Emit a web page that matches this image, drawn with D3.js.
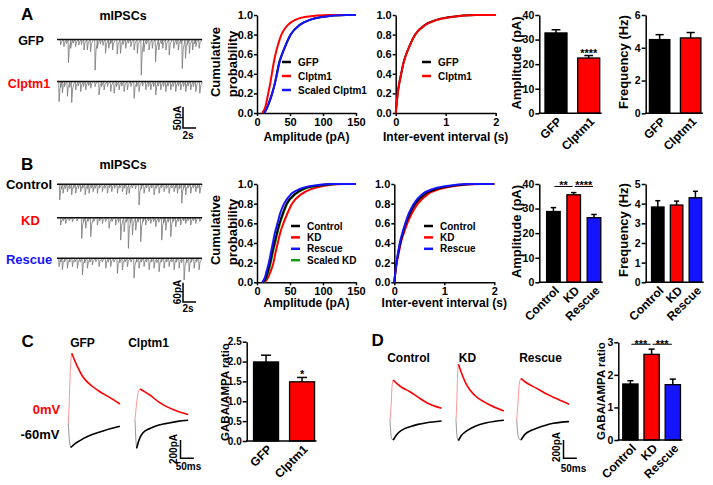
<!DOCTYPE html>
<html><head><meta charset="utf-8">
<script src="https://cdn.jsdelivr.net/npm/d3@7"></script>
<style>
body{margin:0;background:#fff}
text{font-family:"Liberation Sans",Arial,sans-serif;font-weight:bold}
</style>
</head><body><svg id="c" width="713" height="485"></svg>
<script>
// ================= DATA =================
// cumulative distributions: probability levels and the value reached at each level
const cumProb = [0,0.05,0.1,0.2,0.3,0.4,0.5,0.6,0.7,0.8,0.9,0.95,0.98,1,1];
const ampA_GFP    = [11,15,18,23,27,30,33,38,44,51,65,80,98,135,150];
const ampA_Clptm1 = [8,12,14,17,20,22.5,25,28,32,37,47,58,72,110,150];
const ampA_Scaled = [11,15,18,23,27,30.5,33.5,38,44,51,65,80,98,135,150];
const ieiA_GFP    = [0,0.01,0.02,0.04,0.07,0.11,0.15,0.21,0.29,0.39,0.59,0.82,1.1,1.6,2];
const ieiA_Clptm1 = [0,0.01,0.02,0.04,0.07,0.11,0.15,0.21,0.29,0.39,0.6,0.83,1.12,1.6,2];

const ampB_Control = [9,14,16,20,23,26.5,30,34,39,45,58,70,88,120,150];
const ampB_KD      = [12,17,20,25,28,31.5,35,40,46,53,68,83,100,130,150];
const ampB_Rescue  = [8,12,14,18,21,24,27,31,35,41,52,65,82,115,150];
const ampB_Scaled  = [10,14.5,17,21,24,27.5,31,35,40,46,59,72,90,122,150];
const ieiB_Control = [0,0.01,0.02,0.045,0.08,0.12,0.17,0.23,0.31,0.42,0.62,0.85,1.15,1.6,2];
const ieiB_KD      = [0,0.01,0.022,0.05,0.09,0.13,0.19,0.26,0.35,0.47,0.68,0.92,1.2,1.7,2];
const ieiB_Rescue  = [0,0.01,0.02,0.043,0.075,0.11,0.16,0.22,0.29,0.39,0.57,0.78,1.05,1.5,2];

const probTicks = [0,0.2,0.4,0.6,0.8,1.0];
const ampTicks = [0,50,100,150];
const ieiTicks = [0,1,2];

// bar charts (mean, sem)
const groupsA = ["GFP","Clptm1"];
const ampA_mean = [32.7,22.5], ampA_sem = [1.3,1.0];
const freqA_mean = [4.5,4.6], freqA_sem = [0.3,0.33];
const groupsB = ["Control","KD","Rescue"];
const ampB_mean = [28.8,35.6,26.3], ampB_sem = [1.6,0.9,1.3];
const freqB_mean = [3.83,3.93,4.3], freqB_sem = [0.32,0.2,0.33];
const ratioC_mean = [1.99,1.49], ratioC_sem = [0.17,0.11];
const ratioD_mean = [1.72,2.63,1.7], ratioD_sem = [0.1,0.16,0.17];

// mIPSC events [time s, amplitude pA]
const evA_GFP = [[0.5,13],[1.0,17],[1.4,10],[1.7,55],[2.05,21],[2.4,9],[2.8,17],[3.3,13],[3.7,12],[4.1,25],[4.6,25],[5.1,29],[5.8,73],[6.15,21],[6.6,11],[7.0,14],[7.4,33],[7.9,21],[8.2,10],[8.5,25],[9.2,35],[9.7,33],[10.1,12],[10.5,21],[10.9,9],[11.3,17],[11.8,25],[12.3,33],[12.9,85],[13.3,29],[13.7,11],[14.1,25],[14.6,21],[15.1,53],[15.6,25],[16.0,10],[16.2,21],[16.7,25],[17.2,37],[17.9,21],[18.3,12],[18.6,25],[19.0,10],[19.2,69],[19.7,45],[20.0,12],[20.3,33],[20.8,25],[21.1,10],[21.3,17],[21.8,21]];
const evA_Clptm1 = [[0.26,48],[0.5,14],[0.77,27],[1.1,12],[1.54,35],[1.9,14],[2.2,50],[2.82,20],[3.2,11],[3.59,24],[4.0,12],[4.36,20],[4.8,10],[5.13,16],[5.8,12],[6.41,32],[6.8,12],[7.18,20],[7.7,12],[8.2,24],[8.72,28],[9.1,12],[9.49,20],[9.9,11],[10.26,24],[10.77,20],[11.3,12],[11.8,40],[12.2,12],[12.56,24],[13.1,11],[13.59,20],[14.0,12],[14.36,20],[14.8,12],[15.13,32],[15.5,11],[15.9,20],[16.3,12],[16.67,24],[17.0,11],[17.44,20],[17.8,12],[18.2,24],[18.6,11],[18.97,20],[19.4,12],[19.74,24],[20.1,11],[20.51,20],[20.9,12],[21.28,24],[21.9,28]];
const evB_Control = [[0.36,49],[0.6,15],[0.87,28],[1.2,14],[1.54,23],[1.9,14],[2.2,33],[2.5,12],[2.82,28],[3.2,14],[3.59,23],[3.9,12],[4.26,33],[4.6,14],[4.87,28],[5.2,12],[5.49,23],[5.8,13],[6.15,28],[6.5,12],[6.92,23],[7.3,13],[7.69,28],[8.0,12],[8.36,23],[8.8,13],[9.23,28],[9.6,12],[10.0,23],[10.3,12],[10.62,33],[11.03,28],[11.5,12],[12.0,14],[12.56,65],[12.9,14],[13.33,28],[13.7,12],[14.1,23],[14.5,12],[14.87,33],[15.2,13],[15.64,28],[16.0,12],[16.41,23],[16.8,13],[17.18,28],[17.6,12],[17.95,23],[18.2,12],[18.46,28],[18.8,14],[19.13,59],[19.4,14],[19.74,33],[20.1,12],[20.51,28],[20.9,12],[21.28,23],[21.6,12],[21.9,28]];
const evB_KD = [[0.51,23],[0.9,10],[1.28,18],[1.8,9],[2.31,12],[3.0,10],[3.74,65],[4.0,14],[4.36,33],[4.7,12],[5.13,59],[5.6,12],[6.15,23],[6.5,10],[6.92,18],[7.4,12],[7.95,33],[8.4,12],[8.97,23],[9.4,14],[9.74,70],[10.26,44],[10.6,14],[10.92,96],[11.2,16],[11.54,54],[12.05,39],[12.4,14],[12.82,75],[13.2,12],[13.59,23],[14.0,10],[14.36,18],[14.8,12],[15.13,28],[15.6,14],[16.05,70],[16.35,16],[16.67,39],[17.05,14],[17.44,59],[17.8,12],[18.2,28],[18.6,12],[18.97,23],[19.4,10],[19.74,18],[20.1,10],[20.51,23],[20.9,10],[21.28,18],[21.9,12]];
const evB_Rescue = [[0.26,26],[0.5,12],[0.77,36],[1.1,12],[1.54,31],[1.9,12],[2.31,26],[2.7,12],[3.08,31],[3.5,12],[3.85,52],[4.2,14],[4.62,31],[5.0,12],[5.38,21],[5.9,11],[6.41,26],[6.9,12],[7.44,31],[7.8,12],[8.2,26],[8.7,12],[9.23,47],[9.6,14],[10.0,36],[10.4,12],[10.77,26],[11.3,12],[11.79,62],[12.2,12],[12.56,31],[12.9,12],[13.33,26],[13.7,12],[14.1,36],[14.5,12],[14.87,31],[15.3,14],[15.64,42],[16.0,12],[16.41,31],[16.8,12],[17.18,26],[17.6,12],[17.95,36],[18.3,12],[18.72,31],[19.1,14],[19.49,68],[19.9,14],[20.26,42],[20.6,12],[21.03,31],[21.4,12],[21.79,36]];

// evoked currents [time ms, current pA] (0 mV outward, -60 mV inward)
const evC_GFP_0   = [[0,0],[3,200],[8,600],[13,765],[25,680],[56,503],[90,405],[119,345],[157,280],[194,210]];
const evC_GFP_60  = [[0,0],[3,-150],[9,-265],[20,-235],[40,-195],[56,-167],[90,-122],[119,-95],[157,-60],[194,-33]];
const evC_Cl_0    = [[0,0],[5,150],[12,300],[19,339],[30,320],[56,273],[90,195],[119,146],[160,95],[200,61]];
const evC_Cl_60   = [[0,0],[3,-200],[6,-310],[15,-220],[30,-140],[56,-92],[90,-55],[119,-37],[160,-15],[200,-3]];
const evD_Ctl_0   = [[0,0],[4,150],[8,380],[12,437],[25,400],[45,355],[75,309],[105,250],[138,189],[194,128]];
const evD_Ctl_60  = [[0,0],[2,-100],[6,-200],[12,-219],[25,-160],[45,-110],[75,-73],[105,-48],[138,-30],[194,-11]];
const evD_KD_0    = [[0,0],[3,200],[6,500],[9,609],[20,520],[40,383],[70,270],[115,183],[180,98]];
const evD_KD_60   = [[0,0],[3,-150],[6,-210],[9,-226],[20,-170],[40,-120],[70,-70],[115,-30],[180,-2]];
const evD_Res_0   = [[0,0],[5,200],[10,400],[16,456],[35,410],[75,346],[105,295],[138,248],[197,172]];
const evD_Res_60  = [[0,0],[4,-150],[10,-210],[16,-219],[30,-160],[50,-120],[75,-91],[138,-36],[197,-18]];

// ================= DRAW =================
const RED = "#ff0000", BLUE = "#1414ff", GREEN = "#1a9a1a", BLACK = "#000";
const svg = d3.select("#c");
const FONT = '"Liberation Sans",Arial,sans-serif';

function axisStyle(size){
  return sel=>{
    sel.selectAll("path,line").attr("stroke","#000").attr("stroke-width",1.5);
    sel.selectAll("text").attr("font-size",size).attr("font-weight","bold").attr("font-family",FONT).attr("fill","#000");
  };
}
function txt(x,y,s,opt={}){
  const t = svg.append("text").attr("x",x).attr("y",y).text(s)
    .attr("font-size",opt.size||12).attr("fill",opt.color||"#000")
    .attr("text-anchor",opt.anchor||"start");
  if(opt.rot){ t.attr("x",0).attr("y",0).attr("dy","0.35em").attr("text-anchor","middle")
      .attr("transform",`translate(${x},${y}) rotate(${opt.rot})`); }
  return t;
}

function cumPlot(c){
  const x = d3.scaleLinear().domain(c.xDomain).range([c.x0,c.x1]);
  const y = d3.scaleLinear().domain([0,1]).range([c.y0,c.y1]);
  const g = svg.append("g");
  g.append("g").attr("transform",`translate(0,${c.y0})`)
    .call(d3.axisBottom(x).tickValues(c.xTicks).tickFormat(d3.format("d")).tickSize(3).tickPadding(2).tickSizeOuter(0)).call(axisStyle(11));
  g.append("g").attr("transform",`translate(${c.x0},0)`)
    .call(d3.axisLeft(y).tickValues(probTicks).tickFormat(d3.format(".1f")).tickSize(3).tickPadding(1).tickSizeOuter(0)).call(axisStyle(11));
  const line = d3.line().x(d=>x(d[0])).y(d=>y(d[1])).curve(d3.curveMonotoneX);
  c.series.forEach(s=>{
    g.append("path").datum(s.vals.map((v,i)=>[v,cumProb[i]])).attr("d",line)
      .attr("fill","none").attr("stroke",s.color).attr("stroke-width",2);
  });
  c.legend.forEach((s,i)=>{
    const ly = c.ly + i*c.lstep;
    g.append("line").attr("x1",c.lx).attr("x2",c.lx+9).attr("y1",ly).attr("y2",ly).attr("stroke",s.color).attr("stroke-width",2.5);
    g.append("text").attr("x",c.lx+16).attr("y",ly+3.6).text(s.name).attr("font-size",10);
  });
  txt((c.x0+c.x1)/2, c.xl, c.xlabel, {anchor:"middle",size:12});
}

function barPlot(c){
  const x = d3.scaleBand().domain(c.groups).range(c.band).paddingInner(c.pi).paddingOuter(c.po);
  const y = d3.scaleLinear().domain(c.yDomain).range([c.y0,c.y1]);
  const g = svg.append("g");
  const bw = x.bandwidth();
  c.groups.forEach((k,i)=>{
    const m = c.mean[i], s = c.sem[i], cx = x(k)+bw/2;
    g.append("line").attr("x1",cx).attr("x2",cx).attr("y1",y(m)).attr("y2",y(m+s)).attr("stroke","#000").attr("stroke-width",1.5);
    g.append("line").attr("x1",cx-bw*0.2).attr("x2",cx+bw*0.2).attr("y1",y(m+s)).attr("y2",y(m+s)).attr("stroke","#000").attr("stroke-width",1.5);
    g.append("rect").attr("x",x(k)).attr("y",y(m)).attr("width",bw).attr("height",c.y0-y(m))
      .attr("fill",c.colors[i]).attr("stroke","#000").attr("stroke-width",1.3);
    g.append("text").attr("text-anchor","end").attr("font-size",12)
      .attr("transform",`translate(${cx+6.5},${c.y0+9}) rotate(-45)`).text(k);
  });
  g.append("g").attr("transform",`translate(${c.band[0]},0)`)
    .call(d3.axisLeft(y).tickValues(c.yTicks).tickFormat(c.fmt).tickSize(4).tickPadding(1).tickSizeOuter(0)).call(axisStyle(c.tickFont||10.5));
  const last = c.groups[c.groups.length-1];
  g.append("line").attr("x1",c.band[0]-0.75).attr("x2",x(last)+bw+2).attr("y1",c.y0).attr("y2",c.y0).attr("stroke","#000").attr("stroke-width",1.5);
  txt(c.lx,c.ly,c.ylabel,{rot:-90,size:c.lsize||13});
  (c.stars||[]).forEach(st=>{
    const i = c.groups.indexOf(st.g);
    g.append("text").attr("x",x(st.g)+bw/2).attr("y",y(c.mean[i]+c.sem[i])+1).attr("text-anchor","middle").attr("font-size",11).text(st.t);
  });
  (c.brackets||[]).forEach(b=>{
    const x1 = x(b.a)+bw/2+1, x2 = x(b.b)+bw/2-1, by = y(b.v);
    g.append("line").attr("x1",x1).attr("x2",x2).attr("y1",by).attr("y2",by).attr("stroke","#000").attr("stroke-width",1);
    g.append("text").attr("x",(x1+x2)/2).attr("y",by+b.dy).attr("text-anchor","middle").attr("font-size",11).text(b.t);
  });
}

function mipsc(events, base, pxPer50){
  const x = d3.scaleLinear().domain([0,22.3]).range([57,202]);
  const y = d3.scaleLinear().domain([0,50]).range([base, base+pxPer50]);
  const g = svg.append("g");
  events.forEach(e=>{
    const p = d3.path();
    p.moveTo(x(e[0]),y(0)); p.lineTo(x(e[0])+0.4,y(e[1])); p.lineTo(x(e[0]+0.2),y(e[1]*0.35)); p.lineTo(x(e[0]+0.5),y(0));
    g.append("path").attr("d",p.toString()).attr("fill","none").attr("stroke","#777").attr("stroke-width",0.8);
  });
  g.append("line").attr("x1",x(0)).attr("x2",x(22.3)).attr("y1",y(0)).attr("y2",y(0)).attr("stroke","#111").attr("stroke-width",1.4);
  return {x,y};
}
function scaleBar(sx, sy, xLen, yLen, x0, yBottom){
  const w = sx(xLen)-sx(0), h = Math.abs(sy(yLen)-sy(0));
  svg.append("path").attr("d",`M${x0},${yBottom-h}L${x0},${yBottom}L${x0+w},${yBottom}`).attr("fill","none").attr("stroke","#000").attr("stroke-width",1.5);
  return {w,h};
}

function evoked(data0, data60, xStart, base){
  const x = d3.scaleLinear().domain([0,50]).range([xStart, xStart+13.3]);
  const y = d3.scaleLinear().domain([0,200]).range([base, base-18.3]);
  const line = d3.line().x(d=>x(d[0])).y(d=>y(d[1])).curve(d3.curveMonotoneX);
  [[data60,BLACK],[data0,RED]].forEach(([d,col])=>{
    const pk = d3.scan(d, (a,b)=>Math.abs(b[1])-Math.abs(a[1]));
    svg.append("path").datum(d.slice(0,pk+1)).attr("d",line).attr("fill","none").attr("stroke",col).attr("stroke-width",0.6).attr("opacity",0.7);
    svg.append("path").datum(d.slice(pk)).attr("d",line).attr("fill","none").attr("stroke",col).attr("stroke-width",1.6);
  });
  return {x,y};
}

// ---------- Panel A ----------
txt(21,19.5,"A",{size:17});
txt(123,20,"mIPSCs",{anchor:"middle",size:12.5});
txt(31,45,"GFP",{anchor:"middle",size:12.5});
txt(29,88,"Clptm1",{anchor:"middle",size:12.5,color:RED});
const trA = mipsc(evA_GFP, 39.5, 21);
mipsc(evA_Clptm1, 81.5, 21);
scaleBar(trA.x, trA.y, 2, 50, 183, 128);
txt(177,118,"50pA",{rot:-90,size:10});
txt(188,138.5,"2s",{anchor:"middle",size:10});

txt(215,62,"Cumulative",{rot:-90,size:13});
txt(232,64,"probability",{rot:-90,size:13});
cumPlot({xDomain:[0,150],xTicks:ampTicks,x0:257,x1:356,y0:113,y1:15,xl:140.5,xlabel:"Amplitude (pA)",
  series:[{vals:ampA_GFP,color:BLACK},{vals:ampA_Clptm1,color:RED},{vals:ampA_Scaled,color:BLUE}],
  legend:[{name:"GFP",color:BLACK},{name:"Clptm1",color:RED},{name:"Scaled Clptm1",color:BLUE}],lx:282,ly:62,lstep:14});
cumPlot({xDomain:[0,2],xTicks:ieiTicks,x0:395.7,x1:495.7,y0:113,y1:15,xl:140.5,xlabel:"Inter-event interval (s)",
  series:[{vals:ieiA_GFP,color:BLACK},{vals:ieiA_Clptm1,color:RED}],
  legend:[{name:"GFP",color:BLACK},{name:"Clptm1",color:RED}],lx:422,ly:62,lstep:14});
barPlot({groups:groupsA,mean:ampA_mean,sem:ampA_sem,colors:[BLACK,RED],band:[539.3,605.4],pi:0.327,po:0.174,
  yDomain:[0,40],yTicks:[0,10,20,30,40],fmt:d3.format("d"),y0:113.3,y1:15,ylabel:"Amplitude (pA)",lx:516,ly:63,
  stars:[{g:"Clptm1",t:"****"}]});
barPlot({groups:groupsA,mean:freqA_mean,sem:freqA_sem,colors:[BLACK,RED],band:[645.7,704.6],pi:0.34,po:0.12,
  yDomain:[0,6],yTicks:[0,2,4,6],fmt:d3.format("d"),y0:113.3,y1:15,ylabel:"Frequency (Hz)",lx:623,ly:62});

// ---------- Panel B ----------
txt(21,170,"B",{size:17});
txt(123,169,"mIPSCs",{anchor:"middle",size:12.5});
txt(29,189.3,"Control",{anchor:"middle",size:13});
txt(30.5,225,"KD",{anchor:"middle",size:13,color:RED});
txt(29,264,"Rescue",{anchor:"middle",size:13,color:BLUE});
const trB = mipsc(evB_Control, 184.3, 16);
mipsc(evB_KD, 217.7, 16);
mipsc(evB_Rescue, 258.3, 16);
scaleBar(trB.x, trB.y, 2, 60, 183, 302);
txt(177,292,"60pA",{rot:-90,size:10});
txt(188,312,"2s",{anchor:"middle",size:10});

txt(215,230,"Cumulative",{rot:-90,size:13});
txt(232,232,"probability",{rot:-90,size:13});
cumPlot({xDomain:[0,150],xTicks:ampTicks,x0:257,x1:356,y0:282.3,y1:184,xl:307,xlabel:"Amplitude (pA)",
  series:[{vals:ampB_KD,color:RED},{vals:ampB_Scaled,color:GREEN},{vals:ampB_Control,color:BLACK},{vals:ampB_Rescue,color:BLUE}],
  legend:[{name:"Control",color:BLACK},{name:"KD",color:RED},{name:"Rescue",color:BLUE},{name:"Scaled KD",color:GREEN}],lx:291,ly:226,lstep:11.4});
cumPlot({xDomain:[0,2],xTicks:ieiTicks,x0:394.3,x1:494.3,y0:282.3,y1:184,xl:307,xlabel:"Inter-event interval (s)",
  series:[{vals:ieiB_KD,color:RED},{vals:ieiB_Control,color:BLACK},{vals:ieiB_Rescue,color:BLUE}],
  legend:[{name:"Control",color:BLACK},{name:"KD",color:RED},{name:"Rescue",color:BLUE}],lx:424,ly:226,lstep:11.4});
barPlot({groups:groupsB,mean:ampB_mean,sem:ampB_sem,colors:[BLACK,RED,BLUE],band:[539.3,608.1],pi:0.33,po:0.36,
  yDomain:[0,40],yTicks:[0,10,20,30,40],fmt:d3.format("d"),y0:282.3,y1:184,ylabel:"Amplitude (pA)",lx:516,ly:231.5,
  brackets:[{a:"Control",b:"KD",v:39,t:"**",dy:3},{a:"KD",b:"Rescue",v:39,t:"****",dy:3}]});
barPlot({groups:groupsB,mean:freqB_mean,sem:freqB_sem,colors:[BLACK,RED,BLUE],band:[645.7,707.5],pi:0.335,po:0.31,
  yDomain:[0,5],yTicks:[0,1,2,3,4,5],fmt:d3.format("d"),y0:282.3,y1:184,ylabel:"Frequency (Hz)",lx:623,ly:230});

// ---------- Panel C ----------
txt(21.5,346.7,"C",{size:17});
txt(82.5,347,"GFP",{anchor:"middle",size:12});
txt(148.5,347,"Clptm1",{anchor:"middle",size:12});
txt(46.5,414,"0mV",{anchor:"middle",size:13,color:RED});
txt(40,438.5,"-60mV",{anchor:"middle",size:13});
const ecC = evoked(evC_GFP_0, evC_GFP_60, 68.3, 423.3);
evoked(evC_Cl_0, evC_Cl_60, 135, 420);
scaleBar(ecC.x, ecC.y, 50, 200, 180.5, 458.3);
txt(173,449,"200pA",{rot:-90,size:10});
txt(188.5,469.5,"50ms",{anchor:"middle",size:10});
barPlot({groups:groupsA,mean:ratioC_mean,sem:ratioC_sem,colors:[BLACK,RED],band:[246.7,321.4],pi:0.306,po:0.19,
  yDomain:[0,2.5],yTicks:[0,0.5,1,1.5,2,2.5],fmt:d3.format(".1f"),y0:441,y1:341.7,ylabel:"GABA/AMPA ratio",lx:225,ly:392,
  lsize:11.5,tickFont:10,stars:[{g:"Clptm1",t:"*"}]});

// ---------- Panel D ----------
txt(371.5,346,"D",{size:17});
txt(408.5,361.5,"Control",{anchor:"middle",size:12});
txt(467.5,361.5,"KD",{anchor:"middle",size:12});
txt(540.5,361.5,"Rescue",{anchor:"middle",size:12});
const ecD = evoked(evD_Ctl_0, evD_Ctl_60, 390, 420);
evoked(evD_KD_0, evD_KD_60, 456, 420);
evoked(evD_Res_0, evD_Res_60, 516.7, 420);
scaleBar(ecD.x, ecD.y, 50, 200, 563.5, 458.3);
txt(556.5,447,"200pA",{rot:-90,size:10});
txt(573.5,472,"50ms",{anchor:"middle",size:10});
barPlot({groups:groupsB,mean:ratioD_mean,sem:ratioD_sem,colors:[BLACK,RED,BLUE],band:[618.3,684.9],pi:0.28,po:0.21,
  yDomain:[0,3],yTicks:[0,1,2,3],fmt:d3.format("d"),y0:440,y1:342.3,ylabel:"GABA/AMPA ratio",lx:601,ly:391,
  lsize:11.5,brackets:[{a:"Control",b:"KD",v:2.94,t:"***",dy:4},{a:"KD",b:"Rescue",v:2.94,t:"***",dy:4}]});
</script>
</body></html>
